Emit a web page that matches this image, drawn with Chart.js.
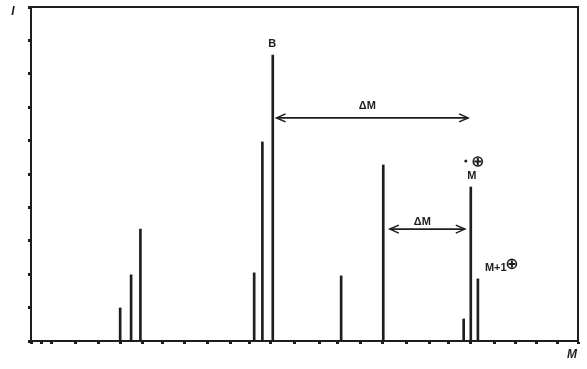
<!DOCTYPE html>
<html>
<head>
<meta charset="utf-8">
<script src="https://cdn.jsdelivr.net/npm/chart.js@4/dist/chart.umd.min.js"></script>
<style>
html,body{margin:0;padding:0;background:#fff;}
#wrap{width:587px;height:369px;position:relative;}
</style>
</head>
<body>
<div id="wrap"><canvas id="c" width="587" height="369"></canvas></div>
<script>
// Peak positions (mass axis, arbitrary units 0..100) and intensities (0..10)
const peakM = [16.3, 18.3, 20.0, 40.8, 42.3, 44.2, 56.7, 64.4, 79.1, 80.4, 81.7];
const peakI = [0.99, 1.98, 3.35, 2.04, 5.96, 8.56, 1.95, 5.27, 0.66, 4.61, 1.86];
// Tick marks on the mass axis (irregular)
const xTickValues = [0, 2.0, 3.7, 8.2, 12.4, 16.3, 20.3, 24.1, 28.0, 32.2, 36.4, 40.0, 43.7, 48.1, 52.7, 56.1, 60.3, 64.2, 68.6, 72.9, 76.4, 80.4, 84.8, 88.5, 92.5, 96.2, 100];
const yTickValues = [0, 1, 2, 3, 4, 5, 6, 7, 8, 9, 10];
// Delta-M arrows: [from, to, intensity level]
const arrowFrom = [44.9, 65.6];
const arrowTo = [79.9, 79.3];
const arrowLevel = [6.68, 3.35];
const axisTitleX = 'M';
const axisTitleY = 'I';

const INK = '#1e1e1e';
const FONT_B = 'bold 11px "Liberation Sans", Arial, sans-serif';

function arrowHead(ctx, x, y, dir) {
  ctx.beginPath();
  ctx.moveTo(x - dir * 9, y - 4);
  ctx.lineTo(x, y);
  ctx.lineTo(x - dir * 9, y + 4);
  ctx.stroke();
}

function circledPlus(ctx, cx, cy, r) {
  ctx.save();
  ctx.lineWidth = 1.6;
  ctx.beginPath();
  ctx.arc(cx, cy, r, 0, Math.PI * 2);
  ctx.stroke();
  ctx.lineWidth = 2;
  ctx.beginPath();
  ctx.moveTo(cx - r + 1, cy);
  ctx.lineTo(cx + r - 1, cy);
  ctx.moveTo(cx, cy - r + 1);
  ctx.lineTo(cx, cy + r - 1);
  ctx.stroke();
  ctx.restore();
}

const overlay = {
  id: 'overlay',
  afterDatasetsDraw(chart) {
    const ctx = chart.ctx;
    const xs = chart.scales.x, ys = chart.scales.y;
    const a = chart.chartArea;
    ctx.save();
    // frame top and right
    ctx.strokeStyle = INK;
    ctx.lineWidth = 2;
    ctx.beginPath();
    ctx.moveTo(a.left, a.top);
    ctx.lineTo(a.right, a.top);
    ctx.lineTo(a.right, a.bottom);
    ctx.stroke();

    // arrows
    ctx.lineWidth = 1.6;
    ctx.fillStyle = INK;
    ctx.font = FONT_B;
    ctx.textAlign = 'center';
    ctx.textBaseline = 'middle';
    const labelOff = [12, 7.5];
    const labelShift = [-5, -5];
    for (let i = 0; i < arrowFrom.length; i++) {
      const x1 = xs.getPixelForValue(arrowFrom[i]);
      const x2 = xs.getPixelForValue(arrowTo[i]);
      const y = ys.getPixelForValue(arrowLevel[i]);
      ctx.beginPath();
      ctx.moveTo(x1, y);
      ctx.lineTo(x2, y);
      ctx.stroke();
      arrowHead(ctx, x1, y, -1);
      arrowHead(ctx, x2, y, 1);
      ctx.fillText('\u0394M', (x1 + x2) / 2 + labelShift[i], y - labelOff[i]);
    }

    // peak labels
    const px = i => xs.getPixelForValue(peakM[i]);
    const py = i => ys.getPixelForValue(peakI[i]);
    ctx.fillText('B', px(5) - 0.5, py(5) - 11);
    ctx.fillText('M', px(9) + 1, py(9) - 11.5);
    ctx.beginPath();
    ctx.arc(px(9) - 5, py(9) - 26, 1.5, 0, Math.PI * 2);
    ctx.fill();
    circledPlus(ctx, px(9) + 7, py(9) - 25.5, 4.5);
    ctx.textAlign = 'left';
    ctx.fillText('M+1', px(10) + 7, py(10) - 11);
    circledPlus(ctx, px(10) + 34, py(10) - 15, 4.5);

    // axis titles
    ctx.textAlign = 'center';
    ctx.font = 'bold italic 12px "Liberation Sans", Arial, sans-serif';
    ctx.fillText(axisTitleY, 13, 12);
    ctx.fillText(axisTitleX, 572, 355);
    ctx.restore();
  }
};

new Chart(document.getElementById('c'), {
  type: 'bar',
  data: {
    datasets: [{
      data: peakM.map((m, i) => ({ x: m, y: peakI[i] })),
      backgroundColor: INK,
      borderWidth: 0,
      barThickness: 2,
      grouped: false
    }]
  },
  options: {
    responsive: false,
    animation: false,
    devicePixelRatio: 1,
    layout: { padding: { left: 0, right: 9, top: 7, bottom: 0 } },
    plugins: { legend: { display: false }, tooltip: { enabled: false } },
    scales: {
      x: {
        type: 'linear',
        offset: false,
        min: 0, max: 100,
        afterBuildTicks: s => { s.ticks = xTickValues.map(v => ({ value: v })); },
        afterFit: s => { s.height = 28; },
        ticks: { display: false },
        grid: { offset: false, drawOnChartArea: false, drawTicks: true, tickLength: 3, tickWidth: 3, tickColor: INK },
        border: { display: true, color: INK, width: 2 }
      },
      y: {
        type: 'linear',
        min: 0, max: 10,
        afterBuildTicks: s => { s.ticks = yTickValues.map(v => ({ value: v })); },
        afterFit: s => { s.width = 31; },
        ticks: { display: false },
        grid: { drawOnChartArea: false, drawTicks: true, tickLength: 3, tickWidth: 3, tickColor: INK },
        border: { display: true, color: INK, width: 2 }
      }
    }
  },
  plugins: [overlay]
});
</script>
</body>
</html>
